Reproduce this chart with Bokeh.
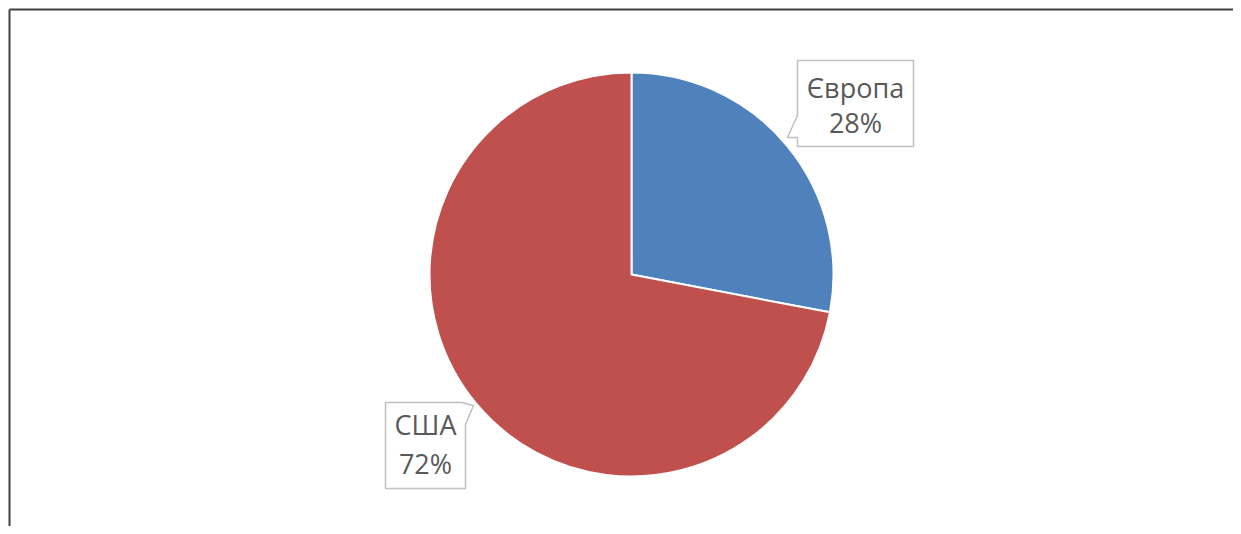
import math
from bokeh.plotting import figure
from bokeh.models import Range1d, ColumnDataSource
from bokeh.core.properties import value
from bokeh.embed import file_html
from bokeh.resources import INLINE

# ---- data ----
categories = ["Європа", "США"]
shares = [28, 72]
colors = ["#4F81BD", "#C0504D"]

W, H = 1233, 526
p = figure(width=W, height=H, output_backend="svg", toolbar_location=None,
           x_range=Range1d(0, W), y_range=Range1d(0, H),
           min_border=0, outline_line_color=None)
p.axis.visible = False
p.grid.visible = False
p.background_fill_color = "white"

def Y(py):
    return H - py

# chart border (left and top only visible)
p.segment(x0=[9, 9], y0=[Y(H), Y(9)], x1=[9, W], y1=[Y(9), Y(9)],
          line_color="#404040", line_width=2)

# pie
cx, cy, r = 631, Y(274), 202
total = sum(shares)
starts, ends = [], []
a = 90.0
for s in shares:
    starts.append(math.radians(a))
    a -= s / total * 360.0
    ends.append(math.radians(a))
src = ColumnDataSource(dict(start=starts, end=ends, color=colors))
p.wedge(x=cx, y=cy, radius=r, start_angle="start", end_angle="end",
        direction="clock", fill_color="color", line_color="white",
        line_width=2, source=src)

# callout boxes
box_eu = [(797, 60), (913, 60), (913, 146), (797, 146), (797, 137), (787, 137), (797, 115)]
box_us = [(385, 402), (461, 402), (473, 405), (465, 424), (465, 488), (385, 488)]
for b in (box_eu, box_us):
    p.patch([q[0] for q in b], [Y(q[1]) for q in b], fill_color="white",
            line_color="#BFBFBF", line_width=1.5)

lx = [855, 425]
ly_name = [Y(87), Y(424)]
ly_pct = [Y(122), Y(463)]
pcts = [f"{s}%" for s in shares]
common = dict(text_align="center", text_baseline="middle",
              text_font=value("Open Sans"), text_font_size="27px", text_color="#595959")
p.text(x=lx, y=ly_name, text=categories, **common)
p.text(x=lx, y=ly_pct, text=pcts, **common)

open("out.html", "w").write(file_html(p, INLINE))
